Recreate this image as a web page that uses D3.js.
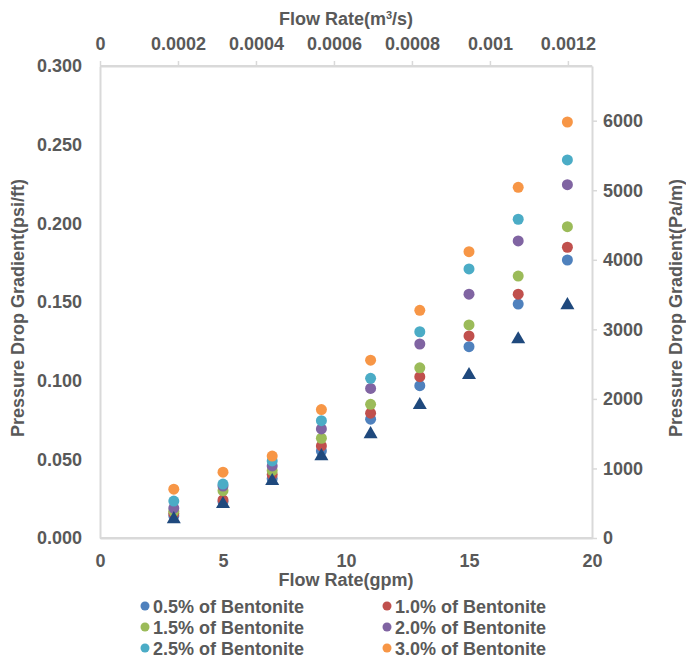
<!DOCTYPE html>
<html>
<head>
<meta charset="utf-8">
<script src="https://cdn.jsdelivr.net/npm/d3@7"></script>
<style>
  html, body { margin: 0; padding: 0; background: #fff; }
  svg { display: block; }
  text { font-family: "Liberation Sans", Arial, sans-serif; font-weight: bold; fill: #595959; }
</style>
</head>
<body>
<svg id="chart" width="686" height="660"></svg>
<script>
// Flow rates tested (gpm)
const flowGpm = [3, 5, 7, 9, 11, 13, 15, 17, 19];

// Pressure drop gradient (psi/ft) for each bentonite concentration
const bent05 = [0.014, 0.023, 0.0377, 0.0553, 0.0755, 0.0968, 0.1216, 0.1487, 0.1767];
const bent10 = [0.0155, 0.0242, 0.0403, 0.0585, 0.0793, 0.1025, 0.1284, 0.155, 0.1848];
const bent15 = [0.017, 0.0301, 0.0428, 0.0634, 0.085, 0.1082, 0.1354, 0.1665, 0.1979];
const bent20 = [0.019, 0.033, 0.0458, 0.0693, 0.0951, 0.1233, 0.155, 0.1888, 0.2246];
const bent25 = [0.0235, 0.0343, 0.049, 0.0746, 0.1015, 0.1311, 0.171, 0.2026, 0.2403];
const bent30 = [0.031, 0.0418, 0.0521, 0.0816, 0.113, 0.1447, 0.182, 0.2229, 0.2644];
// Reference fluid (triangles, not in legend)
const referenceFluid = [0.012, 0.0216, 0.0362, 0.052, 0.066, 0.0845, 0.1036, 0.1263, 0.148];

const seriesNames = ["0.5% of Bentonite", "1.0% of Bentonite", "1.5% of Bentonite",
                     "2.0% of Bentonite", "2.5% of Bentonite", "3.0% of Bentonite"];
const seriesValues = [bent05, bent10, bent15, bent20, bent25, bent30];
const seriesColors = ["#4F81BD", "#C0504D", "#9BBB59", "#8064A2", "#4BACC6", "#F79646"];
const referenceColor = "#1F497D";

// Axis ticks
const gpmTicks = [0, 5, 10, 15, 20];
const psiTicks = [0, 0.05, 0.1, 0.15, 0.2, 0.25, 0.3];
const paTicks = [0, 1000, 2000, 3000, 4000, 5000, 6000];
const m3sTicks = [0, 0.0002, 0.0004, 0.0006, 0.0008, 0.001, 0.0012];

// Unit conversions
const GPM_TO_M3S = 6.30902e-5;
const PSIFT_TO_PAM = 22620.6;

const svg = d3.select("#chart");
const margin = { left: 100, right: 94, top: 66, bottom: 122 };
const W = 686, H = 660;
const x0 = margin.left, x1 = W - margin.right;
const y0 = H - margin.bottom, y1 = margin.top;

const x = d3.scaleLinear().domain([0, 20]).range([x0, x1]);
const xTop = d3.scaleLinear().domain([0, 20 * GPM_TO_M3S]).range([x0, x1]);
const y = d3.scaleLinear().domain([0, 0.3]).range([y0, y1]);
const yRight = d3.scaleLinear().domain([0, 0.3 * PSIFT_TO_PAM]).range([y0, y1]);

const axisColor = "#D9D9D9";
const fontSize = 18;

function styleAxis(g) {
  g.selectAll(".domain").attr("stroke", axisColor).attr("stroke-width", 2);
  g.selectAll(".tick line").attr("stroke", axisColor).attr("stroke-width", 1.5);
  g.selectAll(".tick text")
    .attr("fill", "#595959")
    .style("font-size", fontSize + "px")
    .style("font-weight", "bold")
    .style("font-family", '"Liberation Sans", Arial, sans-serif');
}

// Bottom axis (gpm)
svg.append("g").attr("transform", `translate(0,${y0})`)
  .call(d3.axisBottom(x).tickValues(gpmTicks).tickSize(0).tickSizeOuter(0).tickPadding(16)
    .tickFormat(d3.format("d")))
  .call(styleAxis);

// Left axis (psi/ft)
svg.append("g").attr("transform", `translate(${x0},0)`)
  .call(d3.axisLeft(y).tickValues(psiTicks).tickSize(0).tickSizeOuter(0).tickPadding(18)
    .tickFormat(d3.format(".3f")))
  .call(styleAxis);

// Right axis (Pa/m)
svg.append("g").attr("transform", `translate(${x1},0)`)
  .call(d3.axisRight(yRight).tickValues(paTicks).tickSize(5).tickSizeOuter(0).tickPadding(6)
    .tickFormat(d3.format("d")))
  .call(styleAxis);

// Top axis (m3/s)
const m3sFormat = d => d === 0 ? "0" : d.toFixed(4).replace(/0+$/, "");
svg.append("g").attr("transform", `translate(0,${y1})`)
  .call(d3.axisTop(xTop).tickValues(m3sTicks).tickSize(5).tickSizeOuter(0).tickPadding(11)
    .tickFormat(m3sFormat))
  .call(styleAxis);

// Close the plot frame
svg.append("line").attr("x1", x0).attr("x2", x1).attr("y1", y1).attr("y2", y1)
  .attr("stroke", axisColor).attr("stroke-width", 2);
svg.append("line").attr("x1", x0).attr("x2", x1).attr("y1", y0).attr("y2", y0)
  .attr("stroke", axisColor).attr("stroke-width", 2);

// Axis titles
svg.append("text").attr("x", (x0 + x1) / 2).attr("y", 586).attr("text-anchor", "middle")
  .style("font-size", fontSize + "px").text("Flow Rate(gpm)");
const topTitle = svg.append("text").attr("x", (x0 + x1) / 2).attr("y", 25).attr("text-anchor", "middle")
  .style("font-size", fontSize + "px");
topTitle.append("tspan").text("Flow Rate(m");
topTitle.append("tspan").text("3").attr("dy", -6).style("font-size", "11px");
topTitle.append("tspan").text("/s)").attr("dy", 6);
svg.append("text").attr("transform", `translate(24,308) rotate(-90)`).attr("text-anchor", "middle")
  .style("font-size", fontSize + "px").text("Pressure Drop Gradient(psi/ft)");
svg.append("text").attr("transform", `translate(682,308) rotate(-90)`).attr("text-anchor", "middle")
  .style("font-size", fontSize + "px").text("Pressure Drop Gradient(Pa/m)");

// Data points
const plot = svg.append("g");
seriesValues.forEach((vals, i) => {
  plot.append("g").selectAll("circle")
    .data(vals.map((v, j) => ({ q: flowGpm[j], v })))
    .join("circle")
    .attr("cx", d => x(d.q))
    .attr("cy", d => y(d.v))
    .attr("r", 5.5)
    .attr("fill", seriesColors[i]);
});
plot.append("g").selectAll("path")
  .data(referenceFluid.map((v, j) => ({ q: flowGpm[j], v })))
  .join("path")
  .attr("d", d3.symbol(d3.symbolTriangle, 85))
  .attr("transform", d => `translate(${x(d.q)},${y(d.v)})`)
  .attr("fill", referenceColor);

// Legend (two columns, three rows)
const legendCols = [145, 387];
const legendRows = [606, 627, 648];
const legend = svg.append("g");
seriesNames.forEach((name, i) => {
  const cx = legendCols[i % 2];
  const cy = legendRows[Math.floor(i / 2)];
  legend.append("circle").attr("cx", cx).attr("cy", cy).attr("r", 4.5).attr("fill", seriesColors[i]);
  legend.append("text").attr("x", cx + 8).attr("y", cy + 6.5)
    .style("font-size", fontSize + "px").text(name);
});
</script>
</body>
</html>
